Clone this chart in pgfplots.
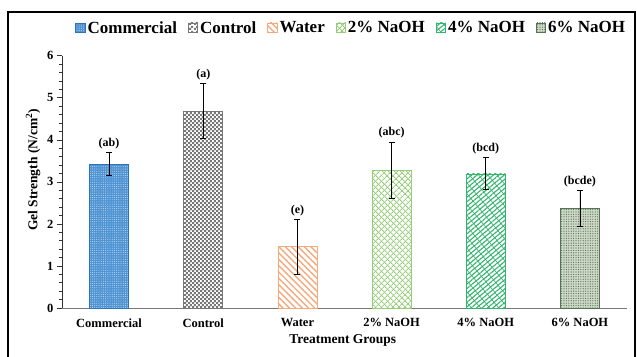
\documentclass[border=0pt]{standalone}
\usepackage{fontspec}
\setmainfont{Liberation Serif}
\usepackage{pgfplots}
\pgfplotsset{compat=1.18}
\usetikzlibrary{patterns,patterns.meta}
\definecolor{cblue}{RGB}{80,148,212}
\definecolor{cblueD}{RGB}{46,117,182}
\definecolor{cgray}{RGB}{120,120,120}
\definecolor{corange}{RGB}{244,170,125}
\definecolor{clgreen}{RGB}{150,205,120}
\definecolor{cgreen}{RGB}{50,180,110}
\definecolor{cdgreen}{RGB}{85,115,85}
\definecolor{cdgreenF}{RGB}{205,215,198}
\tikzdeclarepattern{name=smallchecker, type=uncolored,
  bounding box={(0pt,0pt) and (4.4pt,4.4pt)}, tile size={(4.4pt,4.4pt)},
  code={\pgfpathrectangle{\pgfqpoint{0pt}{0pt}}{\pgfqpoint{2.25pt}{2.25pt}}
        \pgfpathrectangle{\pgfqpoint{2.2pt}{2.2pt}}{\pgfqpoint{2.25pt}{2.25pt}}
        \pgfusepath{fill}}}
\begin{document}
\begin{tikzpicture}
\begin{axis}[
  at={(0,0)}, anchor=south west,
  scale only axis, width=565pt, height=252.3pt,
  xmin=-0.5, xmax=5.5, ymin=0, ymax=6,
  axis x line*=bottom, axis y line*=left,
  x axis line style={draw=cgray, line width=0.9pt},
  y axis line style={draw=black!80, line width=0.7pt},
  xtick={0,...,5},
  xticklabels={Commercial,Control,Water,2\% NaOH,4\% NaOH,6\% NaOH},
  major x tick style={draw=none},
  ytick={0,...,6}, minor y tick num=4,
  tick align=outside,
  major tick length=5pt, minor tick length=3pt,
  y tick style={black!80, line width=0.6pt},
  /pgf/number format/assume math mode=true,
  ticklabel style={font=\rmfamily\fontsize{12.5}{14}\selectfont\bfseries},
  xticklabel style={yshift=-2pt},
  xlabel={Treatment Groups},
  ylabel={Gel Strength (N/cm\textsuperscript{2})},
  label style={font=\rmfamily\fontsize{13.5}{15}\selectfont\bfseries},
  xlabel style={at={(axis description cs:0.497,-0.127)}, anchor=center},
  ylabel style={at={(axis description cs:-0.051,0.547)}, anchor=center},
  legend columns=6,
  legend style={draw=none, fill=none, at={(axis description cs:0.512,1.11)}, anchor=center,
    font=\rmfamily\bfseries\fontsize{17}{19}\selectfont,
    /tikz/every even column/.append style={column sep=9pt},
    inner sep=0pt},
  legend image code/.code={\draw[#1, line width=0.6pt] (0pt,-4.5pt) rectangle (9.5pt,5pt);},
  every axis plot/.append style={ybar, bar width=39pt, bar shift=0pt,
    error bars/y dir=both, error bars/y explicit,
    error bars/error bar style={black, line width=0.8pt},
    error bars/error mark options={rotate=90, mark size=3pt, black, line width=0.8pt}},
]
\addplot[draw=cblueD, line width=0.6pt, fill=cblue,
  postaction={pattern={Dots[distance=2.2pt, radius=0.45pt]}, pattern color=white!80!cblue}]
  coordinates {(0,3.42) +- (0,0.27)};
\addplot[draw=cgray, line width=0.6pt, fill=white,
  postaction={pattern=smallchecker, pattern color=cgray}]
  coordinates {(1,4.68) +- (0,0.65)};
\addplot[draw=corange, line width=0.6pt, fill=white,
  postaction={pattern={Lines[angle=-45, distance=4.5pt, line width=1.4pt]}, pattern color=corange}]
  coordinates {(2,1.46) +- (0,0.65)};
\addplot[draw=clgreen, line width=0.6pt, fill=white,
  postaction={pattern={Lines[angle=45, distance=4pt, line width=0.9pt]}, pattern color=clgreen},
  postaction={pattern={Lines[angle=-45, distance=4pt, line width=0.9pt]}, pattern color=clgreen}]
  coordinates {(3,3.28) +- (0,0.67)};
\addplot[draw=cgreen, line width=0.6pt, fill=white,
  postaction={pattern={Lines[angle=40, distance=3.5pt, line width=1.1pt]}, pattern color=cgreen},
  postaction={pattern={Lines[angle=-50, distance=7pt, line width=0.6pt]}, pattern color=cgreen}]
  coordinates {(4,3.19) +- (0,0.38)};
\addplot[draw=cdgreen, line width=0.7pt, fill=cdgreenF,
  postaction={pattern={Dots[distance=2.4pt, radius=0.6pt]}, pattern color=cdgreen}]
  coordinates {(5,2.36) +- (0,0.43)};
\legend{Commercial,Control,Water,2\% NaOH,4\% NaOH,6\% NaOH}
\begin{scope}[every node/.style={font=\rmfamily\fontsize{12}{14}\selectfont\bfseries, anchor=south, yshift=2.5pt, inner sep=1pt}]
\node at (axis cs:0,3.69) {(ab)};
\node at (axis cs:1,5.33) {(a)};
\node at (axis cs:2,2.11) {(e)};
\node at (axis cs:3,3.95) {(abc)};
\node at (axis cs:4,3.57) {(bcd)};
\node at (axis cs:5,2.79) {(bcde)};
\end{scope}
\end{axis}
\draw[line width=1.3pt] (-54pt,-52pt) -- (-54pt,296pt) -- (573pt,296pt) -- (573pt,-52pt);
\pgfresetboundingbox
\useasboundingbox (-62pt,-48pt) rectangle (575pt,308pt);
\end{tikzpicture}
\end{document}
